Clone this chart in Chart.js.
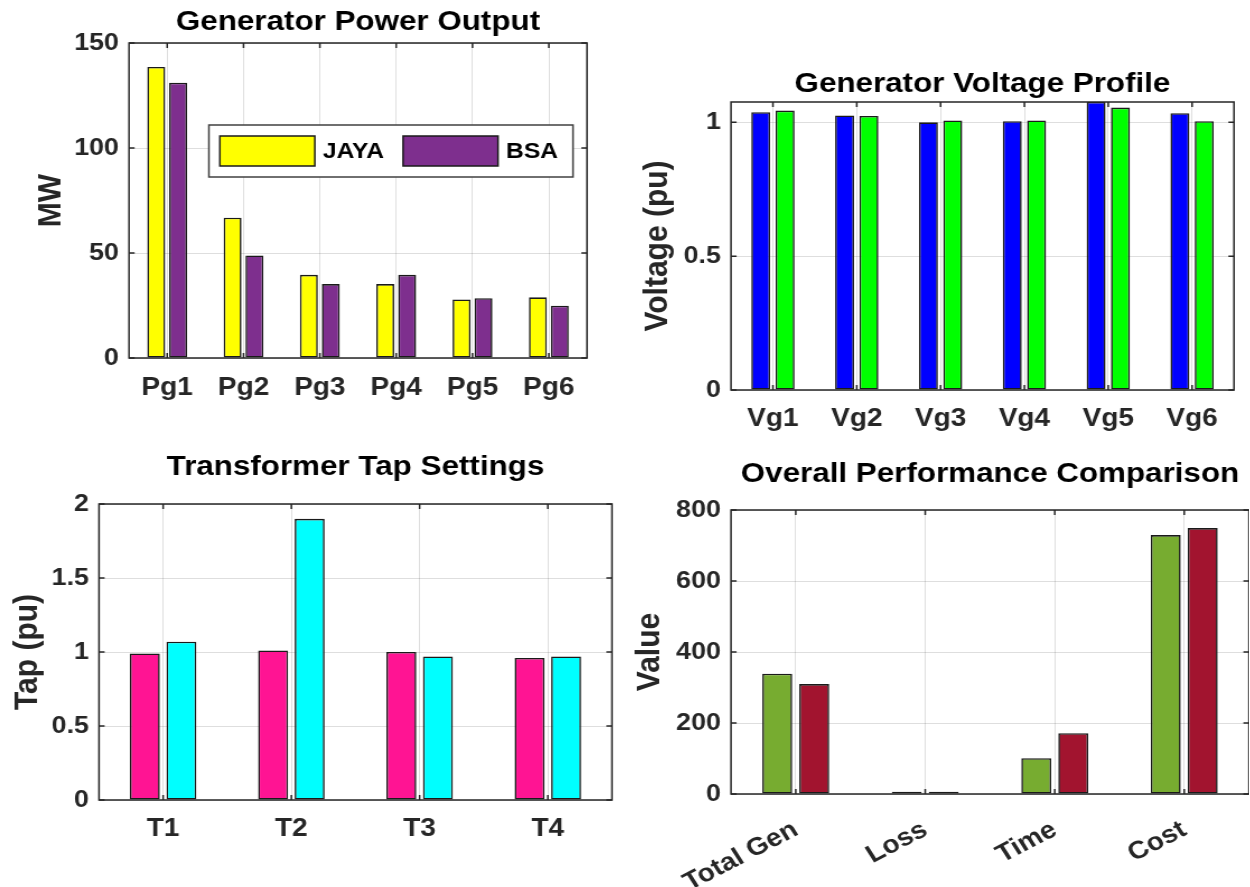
<!DOCTYPE html>
<html>
<head>
<meta charset="utf-8">
<title>OPF comparison: JAYA vs BSA</title>
<script src="https://cdn.jsdelivr.net/npm/chart.js@4.4.1/dist/chart.umd.min.js"></script>
<style>
  html, body { margin: 0; padding: 0; background: #fff; }
  body { width: 1250px; height: 887px; position: relative; overflow: hidden; }
  .panel { position: absolute; transform-origin: 0 0; }
  .panel canvas { display: block; }
</style>
</head>
<body>
<div class="panel" id="p1" style="left:0px;top:0px;"><canvas id="genChart" width="554" height="440"></canvas></div>
<div class="panel" id="p2" style="left:620px;top:0px;"><canvas id="voltChart" width="562" height="440"></canvas></div>
<div class="panel" id="p3" style="left:0px;top:440px;"><canvas id="tapChart" width="554" height="447"></canvas></div>
<div class="panel" id="p4" style="left:620px;top:440px;"><canvas id="perfChart" width="562" height="447"></canvas></div>
<script>
// ---- data ----
const seriesNames = ['JAYA', 'BSA'];

const genLabels = ['Pg1', 'Pg2', 'Pg3', 'Pg4', 'Pg5', 'Pg6'];
const genJaya   = [138.6, 66.8, 39.6, 35.2, 27.9, 28.9];
const genBsa    = [131.1, 48.8, 35.2, 39.6, 28.5, 24.9];

const voltLabels = ['Vg1', 'Vg2', 'Vg3', 'Vg4', 'Vg5', 'Vg6'];
const voltJaya   = [1.038, 1.026, 1.000, 1.004, 1.076, 1.034];
const voltBsa    = [1.044, 1.024, 1.007, 1.007, 1.055, 1.004];

const tapLabels = ['T1', 'T2', 'T3', 'T4'];
const tapJaya   = [0.99, 1.01, 1.00, 0.96];
const tapBsa    = [1.07, 1.90, 0.97, 0.97];

const perfLabels = ['Total Gen', 'Loss', 'Time', 'Cost'];
const perfJaya   = [338.8, 6.5, 100.7, 729.4];
const perfBsa    = [309.6, 6.0, 171.3, 749.2];

// ---- styling ----
const FONT = "'Liberation Sans', Arial, Helvetica, sans-serif";
const STRETCH = 1.12;          // horizontal stretch applied to every panel
const INK = '#262626';
const GRID = 'rgba(0,0,0,0.13)';
const EDGE = '#1a1a1a';

Chart.defaults.font.family = FONT;
Chart.defaults.font.weight = 'bold';

document.querySelectorAll('.panel').forEach(p => {
  p.style.transform = `scaleX(${STRETCH})`;
});

// Plain tick numbers: 1 rather than 1.0, 0.5 stays 0.5
const plainNumber = v => String(Math.round(v * 1000) / 1000);

// Box around the plot area with short inward tick marks on all four sides
const axesFrame = {
  id: 'axesFrame',
  afterDatasetsDraw(chart) {
    const { ctx, chartArea: a, scales: { x, y } } = chart;
    const len = 5;
    ctx.save();
    ctx.strokeStyle = INK;
    ctx.lineWidth = 1.5;
    ctx.beginPath();
    x.ticks.forEach((t, i) => {
      const px = x.getPixelForTick(i);
      ctx.moveTo(px, a.bottom); ctx.lineTo(px, a.bottom - len);
      ctx.moveTo(px, a.top);    ctx.lineTo(px, a.top + len);
    });
    y.ticks.forEach((t, i) => {
      const py = y.getPixelForTick(i);
      ctx.moveTo(a.left, py);  ctx.lineTo(a.left + len, py);
      ctx.moveTo(a.right, py); ctx.lineTo(a.right - len, py);
    });
    ctx.stroke();
    ctx.strokeRect(a.left, a.top, a.right - a.left, a.bottom - a.top);
    ctx.restore();
  }
};

// Boxed horizontal legend drawn inside the plot area, anchored to its top-right
const boxLegend = {
  id: 'boxLegend',
  afterDatasetsDraw(chart, args, o) {
    const { ctx, chartArea: a } = chart;
    ctx.save();
    ctx.font = `bold ${o.fontSize}px ${FONT}`;
    const items = chart.data.datasets.map(ds => ({
      label: ds.label, color: ds.backgroundColor, w: ctx.measureText(ds.label).width
    }));
    let width = o.padL + o.padR;
    items.forEach((it, i) => {
      width += o.swatchW + o.textGap + it.w + (i < items.length - 1 ? o.itemGap : 0);
    });
    const right = a.right - o.right;
    const left = right - width;
    const top = a.top + o.top;
    ctx.fillStyle = '#fff';
    ctx.fillRect(left, top, width, o.height);
    ctx.strokeStyle = '#404040';
    ctx.lineWidth = 1.5;
    ctx.strokeRect(left, top, width, o.height);
    let cx = left + o.padL;
    const mid = top + o.height / 2;
    items.forEach(it => {
      ctx.fillStyle = it.color;
      ctx.fillRect(cx, mid - o.swatchH / 2, o.swatchW, o.swatchH);
      ctx.strokeStyle = EDGE;
      ctx.lineWidth = 1.5;
      ctx.strokeRect(cx, mid - o.swatchH / 2, o.swatchW, o.swatchH);
      cx += o.swatchW + o.textGap;
      ctx.fillStyle = '#000';
      ctx.textAlign = 'left';
      ctx.textBaseline = 'middle';
      ctx.fillText(it.label, cx, mid + 1);
      cx += it.w + o.itemGap;
    });
    ctx.restore();
  }
};

function barChart(canvasId, o) {
  const plugins = [axesFrame];
  if (o.legend) plugins.push(boxLegend);
  return new Chart(document.getElementById(canvasId), {
    type: 'bar',
    data: {
      labels: o.labels,
      datasets: o.series.map(s => ({
        label: s.label,
        data: s.data,
        backgroundColor: s.color,
        borderColor: EDGE,
        borderWidth: 1.6,
        borderSkipped: false,
        categoryPercentage: o.cat,
        barPercentage: o.bar
      }))
    },
    options: {
      responsive: false,
      animation: false,
      devicePixelRatio: 1,
      layout: { padding: { left: 0, right: o.padRight, top: 0, bottom: 0 } },
      plugins: {
        legend: { display: false },
        tooltip: { enabled: false },
        title: {
          display: true, text: o.title, fullSize: false, color: '#000',
          font: { size: 28, weight: 'bold', lineHeight: 1.2 },
          padding: { top: o.titleTop, bottom: o.titleBottom }
        },
        boxLegend: o.legend || {}
      },
      scales: {
        x: {
          grid: { color: GRID, offset: false, drawTicks: false },
          border: { display: false },
          ticks: {
            color: INK, autoSkip: false,
            minRotation: o.rot || 0, maxRotation: o.rot || 0,
            padding: o.xPad,
            font: { size: 25, weight: 'bold', lineHeight: 1.2 }
          },
          afterFit: s => { s.height = o.xHeight; }
        },
        y: {
          min: 0, max: o.yMax,
          grid: { color: GRID, drawTicks: false },
          border: { display: false },
          ticks: {
            color: INK, stepSize: o.yStep, includeBounds: false,
            padding: o.yPad, callback: plainNumber,
            font: { size: 24, weight: 'bold', lineHeight: 1.2 }
          },
          title: {
            display: true, text: o.yTitle, color: INK,
            font: { size: 30, weight: 'bold', lineHeight: 1.2 },
            padding: { top: o.yTitleTop, bottom: 0 }
          },
          afterFit: s => { s.width = o.yWidth; }
        }
      }
    },
    plugins
  });
}

barChart('genChart', {
  title: 'Generator Power Output', yTitle: 'MW',
  labels: genLabels,
  series: [
    { label: seriesNames[0], data: genJaya, color: '#ffff00' },
    { label: seriesNames[1], data: genBsa,  color: '#7e2f8e' }
  ],
  cat: 0.574, bar: 0.82,
  yMax: 150, yStep: 50,
  yWidth: 115.2, yPad: 9, yTitleTop: 27.5,
  padRight: 29.9,
  titleTop: 5.2, titleBottom: 4.2,
  xHeight: 82, xPad: 15,
  legend: { fontSize: 22, right: 12.5, top: 82, height: 52, padL: 9.8, padR: 13.4,
            swatchW: 84.8, swatchH: 30, textGap: 7.1, itemGap: 17 }
});

barChart('voltChart', {
  title: 'Generator Voltage Profile', yTitle: 'Voltage (pu)',
  labels: voltLabels,
  series: [
    { label: seriesNames[0], data: voltJaya, color: '#0000ff' },
    { label: seriesNames[1], data: voltBsa,  color: '#00ff00' }
  ],
  cat: 0.58, bar: 0.78,
  yMax: 1.076, yStep: 0.5,
  yWidth: 99.1, yPad: 9, yTitleTop: 16,
  padRight: 13.8,
  titleTop: 67.2, titleBottom: 1.2,
  xHeight: 50, xPad: 14
});

barChart('tapChart', {
  title: 'Transformer Tap Settings', yTitle: 'Tap (pu)',
  labels: tapLabels,
  series: [
    { label: seriesNames[0], data: tapJaya, color: '#ff1493' },
    { label: seriesNames[1], data: tapBsa,  color: '#00ffff' }
  ],
  cat: 0.57, bar: 0.82,
  yMax: 2, yStep: 0.5,
  yWidth: 88.4, yPad: 9, yTitleTop: 7,
  padRight: 7.6,
  titleTop: 10.2, titleBottom: 20.2,
  xHeight: 87, xPad: 14
});

barChart('perfChart', {
  title: 'Overall Performance Comparison', yTitle: 'Value',
  labels: perfLabels,
  series: [
    { label: seriesNames[0], data: perfJaya, color: '#77ac30' },
    { label: seriesNames[1], data: perfBsa,  color: '#a2142f' }
  ],
  cat: 0.571, bar: 0.81,
  yMax: 800, yStep: 200,
  yWidth: 99.1, yPad: 9, yTitleTop: 9,
  padRight: 0.4,
  titleTop: 17.2, titleBottom: 19.2,
  xHeight: 93, xPad: 21, rot: 30
});
</script>
</body>
</html>
